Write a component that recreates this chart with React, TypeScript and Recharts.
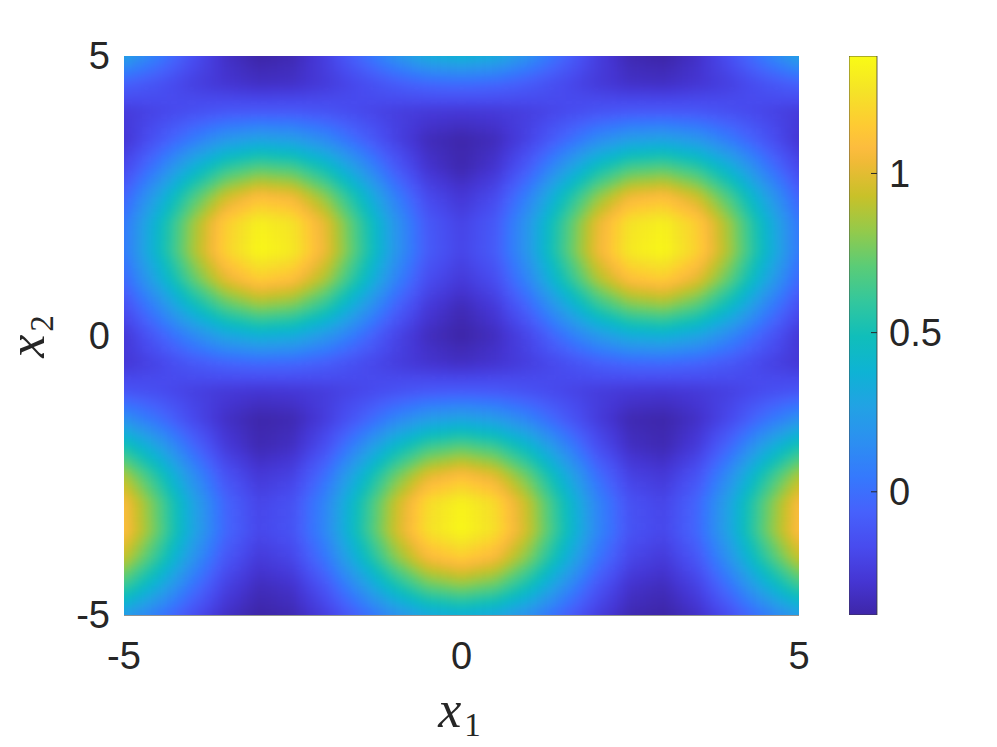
import React from 'react';
import { ScatterChart, Scatter, XAxis, YAxis, BarChart, Bar } from 'recharts';

// ---- data ----
const x1Values = [-5, -4.5, -4, -3.5, -3, -2.5, -2, -1.5, -1, -0.5, 0, 0.5, 1, 1.5, 2, 2.5, 3, 3.5, 4, 4.5, 5];
const x2Values = [5, 4.5, 4, 3.5, 3, 2.5, 2, 1.5, 1, 0.5, 0, -0.5, -1, -1.5, -2, -2.5, -3, -3.5, -4, -4.5, -5];

// field value at (x1Values[j], x2Values[i]) ; rows top (x2 = 5) to bottom (x2 = -5)
const fieldRows: number[][] = [
  [0.26, 0.07, -0.14, -0.31, -0.39, -0.36, -0.23, -0.03, 0.17, 0.33, 0.38, 0.33, 0.17, -0.03, -0.23, -0.36, -0.39, -0.31, -0.14, 0.07, 0.26],
  [-0.06, -0.13, -0.22, -0.28, -0.32, -0.31, -0.25, -0.17, -0.09, -0.03, -0.01, -0.03, -0.09, -0.17, -0.25, -0.31, -0.32, -0.28, -0.22, -0.13, -0.06],
  [-0.25, -0.20, -0.15, -0.11, -0.10, -0.10, -0.13, -0.18, -0.23, -0.26, -0.27, -0.26, -0.23, -0.18, -0.13, -0.10, -0.10, -0.11, -0.15, -0.20, -0.25],
  [-0.28, -0.12, 0.05, 0.20, 0.27, 0.24, 0.13, -0.04, -0.21, -0.34, -0.38, -0.34, -0.21, -0.04, 0.13, 0.24, 0.27, 0.20, 0.05, -0.12, -0.28],
  [-0.19, 0.06, 0.35, 0.58, 0.69, 0.65, 0.47, 0.20, -0.08, -0.29, -0.37, -0.29, -0.08, 0.20, 0.47, 0.65, 0.69, 0.58, 0.35, 0.06, -0.19],
  [-0.06, 0.27, 0.63, 0.93, 1.08, 1.03, 0.79, 0.45, 0.09, -0.18, -0.28, -0.18, 0.09, 0.45, 0.79, 1.03, 1.08, 0.93, 0.63, 0.27, -0.06],
  [0.04, 0.41, 0.82, 1.16, 1.32, 1.26, 1.00, 0.61, 0.21, -0.10, -0.21, -0.10, 0.21, 0.61, 1.00, 1.26, 1.32, 1.16, 0.82, 0.41, 0.04],
  [0.05, 0.43, 0.84, 1.18, 1.35, 1.29, 1.02, 0.63, 0.22, -0.09, -0.20, -0.09, 0.22, 0.63, 1.02, 1.29, 1.35, 1.18, 0.84, 0.43, 0.05],
  [-0.03, 0.31, 0.69, 1.00, 1.16, 1.10, 0.86, 0.50, 0.12, -0.16, -0.26, -0.16, 0.12, 0.50, 0.86, 1.10, 1.16, 1.00, 0.69, 0.31, -0.03],
  [-0.16, 0.11, 0.42, 0.67, 0.80, 0.75, 0.56, 0.26, -0.04, -0.26, -0.35, -0.26, -0.04, 0.26, 0.56, 0.75, 0.80, 0.67, 0.42, 0.11, -0.16],
  [-0.27, -0.08, 0.12, 0.29, 0.37, 0.34, 0.21, 0.02, -0.19, -0.33, -0.39, -0.33, -0.19, 0.02, 0.21, 0.34, 0.37, 0.29, 0.12, -0.08, -0.27],
  [-0.27, -0.20, -0.11, -0.05, -0.02, -0.03, -0.08, -0.16, -0.23, -0.29, -0.32, -0.29, -0.23, -0.16, -0.08, -0.03, -0.02, -0.05, -0.11, -0.20, -0.27],
  [-0.12, -0.16, -0.22, -0.26, -0.28, -0.27, -0.24, -0.19, -0.14, -0.10, -0.09, -0.10, -0.14, -0.19, -0.24, -0.27, -0.28, -0.26, -0.22, -0.16, -0.12],
  [0.17, 0.01, -0.17, -0.31, -0.38, -0.36, -0.24, -0.08, 0.10, 0.23, 0.28, 0.23, 0.10, -0.08, -0.24, -0.36, -0.38, -0.31, -0.17, 0.01, 0.17],
  [0.53, 0.28, -0.01, -0.25, -0.36, -0.32, -0.14, 0.14, 0.42, 0.63, 0.71, 0.63, 0.42, 0.14, -0.14, -0.32, -0.36, -0.25, -0.01, 0.28, 0.53],
  [0.87, 0.54, 0.17, -0.13, -0.27, -0.22, 0.01, 0.36, 0.72, 0.99, 1.09, 0.99, 0.72, 0.36, 0.01, -0.22, -0.27, -0.13, 0.17, 0.54, 0.87],
  [1.08, 0.71, 0.30, -0.04, -0.20, -0.14, 0.12, 0.51, 0.91, 1.22, 1.33, 1.22, 0.91, 0.51, 0.12, -0.14, -0.20, -0.04, 0.30, 0.71, 1.08],
  [1.10, 0.73, 0.31, -0.03, -0.19, -0.13, 0.13, 0.53, 0.93, 1.24, 1.35, 1.24, 0.93, 0.53, 0.13, -0.13, -0.19, -0.03, 0.31, 0.73, 1.10],
  [0.92, 0.58, 0.20, -0.11, -0.26, -0.20, 0.04, 0.40, 0.77, 1.05, 1.15, 1.05, 0.77, 0.40, 0.04, -0.20, -0.26, -0.11, 0.20, 0.58, 0.92],
  [0.61, 0.33, 0.03, -0.22, -0.34, -0.30, -0.11, 0.18, 0.48, 0.71, 0.79, 0.71, 0.48, 0.18, -0.11, -0.30, -0.34, -0.22, 0.03, 0.33, 0.61],
  [0.24, 0.06, -0.14, -0.31, -0.39, -0.36, -0.23, -0.04, 0.16, 0.31, 0.36, 0.31, 0.16, -0.04, -0.23, -0.36, -0.39, -0.31, -0.14, 0.06, 0.24],
];

const axisTicks = [-5, 0, 5];
const colorbarTicks = [0, 0.5, 1];
const colorLimits: [number, number] = [-0.387, 1.369];

// ---- parula colormap ----
const PARULA: [number, number, number, number][] = [
  [0, 0.2422, 0.1504, 0.6603],
  [15, 0.2691, 0.2094, 0.8249],
  [31, 0.2811, 0.2930, 0.9352],
  [47, 0.2726, 0.3804, 0.9881],
  [63, 0.2066, 0.4743, 0.9926],
  [79, 0.1740, 0.5605, 0.9432],
  [95, 0.1321, 0.6363, 0.8932],
  [111, 0.0535, 0.7006, 0.8299],
  [127, 0.0638, 0.7446, 0.7292],
  [143, 0.2003, 0.7787, 0.6146],
  [159, 0.3548, 0.8016, 0.4669],
  [175, 0.5748, 0.7929, 0.2941],
  [191, 0.7829, 0.7579, 0.1608],
  [207, 0.9440, 0.7285, 0.2151],
  [213, 0.9900, 0.7365, 0.2429],
  [223, 0.9949, 0.7915, 0.2012],
  [239, 0.9608, 0.8902, 0.1532],
  [255, 0.9769, 0.9839, 0.0805],
];

const toHex = (c: number) => {
  const v = Math.max(0, Math.min(255, Math.round(c * 255)));
  return v.toString(16).padStart(2, '0');
};

function parula(t: number): string {
  const tt = Math.max(0, Math.min(1, t)) * 255;
  for (let i = 1; i < PARULA.length; i++) {
    const a = PARULA[i - 1];
    const b = PARULA[i];
    if (tt <= b[0]) {
      const f = (tt - a[0]) / (b[0] - a[0]);
      return '#' + toHex(a[1] + (b[1] - a[1]) * f) + toHex(a[2] + (b[2] - a[2]) * f) + toHex(a[3] + (b[3] - a[3]) * f);
    }
  }
  const l = PARULA[PARULA.length - 1];
  return '#' + toHex(l[1]) + toHex(l[2]) + toHex(l[3]);
}

const colorFor = (v: number) => parula((v - colorLimits[0]) / (colorLimits[1] - colorLimits[0]));

const heatPoints = fieldRows.flatMap((row, i) => row.map((v, j) => ({ x: x1Values[j], y: x2Values[i], v, i, j })));
const colorbarData = [{ name: 'cb', range: colorLimits }];

// shading: colour blended between neighbouring grid values (like shading interp)
const NR = fieldRows.length;
const NC = fieldRows[0].length;
function shadeAt(gi: number, gj: number): number {
  const ci = Math.max(0, Math.min(NR - 1, gi));
  const cj = Math.max(0, Math.min(NC - 1, gj));
  const i0 = Math.min(NR - 2, Math.floor(ci));
  const j0 = Math.min(NC - 2, Math.floor(cj));
  const fi = ci - i0;
  const fj = cj - j0;
  const a = fieldRows[i0][j0];
  const b = fieldRows[i0][j0 + 1];
  const c = fieldRows[i0 + 1][j0];
  const d = fieldRows[i0 + 1][j0 + 1];
  return (a * (1 - fj) + b * fj) * (1 - fi) + (c * (1 - fj) + d * fj) * fi;
}

// ---- layout ----
const W = 997;
const H = 747;
const PLOT_LEFT = 124;
const PLOT_TOP = 56;
const PLOT_RIGHT_MARGIN = 198;
const X_AXIS_H = 132;
const PLOT_W = W - PLOT_LEFT - PLOT_RIGHT_MARGIN;
const PLOT_H = H - PLOT_TOP - X_AXIS_H;
const CELL_W = PLOT_W / (x1Values.length - 1);
const CELL_H = PLOT_H / (x2Values.length - 1);
const SUB = 6;

const SANS = "'Liberation Sans', Arial, Helvetica, sans-serif";
const SERIF = "'Liberation Serif', 'Times New Roman', serif";
const INK = '#262626';
const TICK_FONT = 38;

const HeatCell = (props: any) => {
  const { cx, cy, payload } = props;
  if (cx == null || cy == null) return null;
  const sw = CELL_W / SUB;
  const sh = CELL_H / SUB;
  const rects = [];
  for (let a = 0; a < SUB; a++) {
    for (let b = 0; b < SUB; b++) {
      const fy = (a + 0.5) / SUB - 0.5;
      const fx = (b + 0.5) / SUB - 0.5;
      const v = shadeAt(payload.i + fy, payload.j + fx);
      rects.push(
        <rect
          key={a * SUB + b}
          x={cx - CELL_W / 2 + b * sw - 0.3}
          y={cy - CELL_H / 2 + a * sh - 0.3}
          width={sw + 0.6}
          height={sh + 0.6}
          fill={colorFor(v)}
        />
      );
    }
  }
  return <g>{rects}</g>;
};

const XLabel = (props: any) => {
  const vb = props.viewBox || {};
  const cx = vb.x + vb.width / 2 - 2;
  const by = vb.y + 111.5;
  return (
    <text x={cx} y={by} textAnchor="middle" fontFamily={SERIF} fontSize={52} fill={INK}>
      <tspan fontStyle="italic">x</tspan>
      <tspan fontSize={33} dx={3} dy={9}>1</tspan>
    </text>
  );
};

const YLabel = (props: any) => {
  const vb = props.viewBox || {};
  const px = vb.x + 43.5;
  const py = vb.y + vb.height / 2 + 1;
  return (
    <text x={px} y={py} transform={`rotate(-90, ${px}, ${py})`} textAnchor="middle" fontFamily={SERIF} fontSize={52} fill={INK}>
      <tspan fontStyle="italic">x</tspan>
      <tspan fontSize={33} dx={3} dy={9}>2</tspan>
    </text>
  );
};

const CB_MARGIN = 12;
const ColorbarTick = (props: any) => {
  const { x, y, payload } = props;
  const ax = x - CB_MARGIN;
  return (
    <g>
      <line x1={ax - 6} x2={ax} y1={y} y2={y} stroke={INK} strokeWidth={1} />
      <text x={x} y={y} dy="0.355em" textAnchor="start" fontFamily={SANS} fontSize={TICK_FONT} fill={INK}>
        {String(payload.value)}
      </text>
    </g>
  );
};

export default function App() {
  const gradStops = PARULA.map((s) => ({ off: s[0] / 255, col: parula(s[0] / 255) }));
  return (
    <div style={{ position: 'absolute', left: 0, top: 0, width: W, height: H, background: '#ffffff' }}>
      <style>{`.heat-layer { filter: url(#heatBlur); }`}</style>
      <svg width={0} height={0} style={{ position: 'absolute', left: 0, top: 0 }}>
        <defs>
          <filter id="heatBlur" x="-10%" y="-10%" width="120%" height="120%" colorInterpolationFilters="sRGB">
            <feGaussianBlur stdDeviation="3.5 3" />
            <feComponentTransfer>
              <feFuncA type="table" tableValues="1 1" />
            </feComponentTransfer>
          </filter>
          <linearGradient id="parulaGrad" x1="0" y1="1" x2="0" y2="0">
            {gradStops.map((s, i) => (
              <stop key={i} offset={s.off} stopColor={s.col} />
            ))}
          </linearGradient>
        </defs>
      </svg>

      <div style={{ position: 'absolute', left: 0, top: 0 }}>
        <ScatterChart
          width={W}
          height={H}
          margin={{ top: PLOT_TOP, right: PLOT_RIGHT_MARGIN, bottom: 0, left: 0 }}
        >
          <XAxis
            type="number"
            dataKey="x"
            domain={[-5, 5]}
            ticks={axisTicks}
            allowDataOverflow
            height={X_AXIS_H}
            tickLine={false}
            tickSize={0}
            tickMargin={27}
            axisLine={{ stroke: INK, strokeWidth: 1 }}
            tick={{ fontSize: TICK_FONT, fill: INK, fontFamily: SANS }}
            label={{ content: XLabel }}
          />
          <YAxis
            type="number"
            dataKey="y"
            domain={[-5, 5]}
            ticks={axisTicks}
            allowDataOverflow
            width={PLOT_LEFT}
            tickLine={false}
            tickSize={0}
            tickMargin={14}
            axisLine={false}
            tick={{ fontSize: TICK_FONT, fill: INK, fontFamily: SANS }}
            label={{ content: YLabel }}
          />
          <Scatter
            data={heatPoints}
            shape={HeatCell}
            className="heat-layer"
            isAnimationActive={false}
          />
        </ScatterChart>
      </div>

      <div style={{ position: 'absolute', left: 849, top: 0 }}>
        <BarChart
          width={148}
          height={H}
          data={colorbarData}
          margin={{ top: PLOT_TOP, right: 0, bottom: X_AXIS_H, left: 0 }}
          barCategoryGap={0}
        >
          <XAxis dataKey="name" hide />
          <YAxis
            orientation="right"
            type="number"
            domain={colorLimits}
            ticks={colorbarTicks}
            allowDataOverflow
            width={120}
            tickLine={false}
            tickSize={0}
            tickMargin={CB_MARGIN}
            axisLine={false}
            tick={ColorbarTick}
          />
          <Bar
            dataKey="range"
            fill="url(#parulaGrad)"
            stroke="#3a3a3a"
            strokeWidth={0.8}
            isAnimationActive={false}
          />
        </BarChart>
      </div>
    </div>
  );
}
